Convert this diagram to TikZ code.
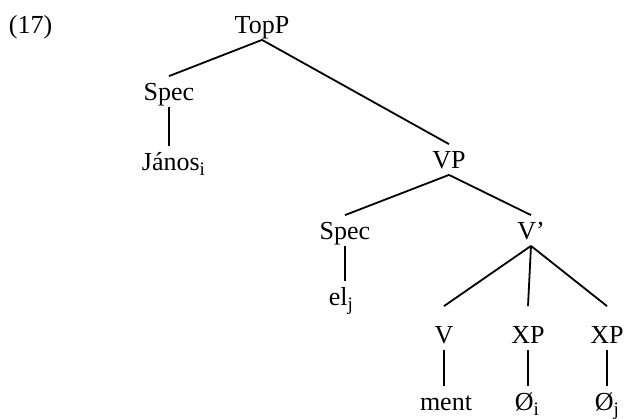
\documentclass[tikz,border=0pt]{standalone}
\usepackage{fontspec}
\setmainfont{Liberation Serif}
\newcommand\idx[1]{\raisebox{-5pt}{\fontsize{19pt}{20pt}\selectfont #1}}
\tikzset{
  lbl/.style={inner xsep=1pt, inner ysep=5pt, text height=18pt, text depth=1pt, font=\fontsize{26pt}{30pt}\selectfont},
}
\begin{document}
\begin{tikzpicture}[x=1pt,y=-1pt,line width=1.8pt]
\useasboundingbox (0,0) rectangle (631,418);
\fill [white] (0,0) rectangle (631,418);

\node (ex) at (7,33) [lbl,anchor=base west] {(17)};
\node (TopP) at (262,33) [lbl,anchor=base] {TopP};
\node (Spec1) at (169,100) [lbl,anchor=base] {Spec};
\node (Janos) at (140,170) [lbl,anchor=base west] {János\idx{i}};
\node (VP) at (449,168) [lbl,anchor=base] {VP};
\node (Spec2) at (345,239) [lbl,anchor=base] {Spec};
\node (Vbar) at (531,239) [lbl,anchor=base] {V’};
\node (el) at (327,305) [lbl,anchor=base west] {el\idx{j}};
\node (V) at (444,343) [lbl,anchor=base] {V};
\node (XPa) at (528,343) [lbl,anchor=base] {XP};
\node (XPb) at (607,343) [lbl,anchor=base] {XP};
\node (ment) at (446,410) [lbl,anchor=base] {ment};
\node (nulla) at (513,410) [lbl,anchor=base west] {Ø\idx{i}};
\node (nullb) at (593,410) [lbl,anchor=base west] {Ø\idx{j}};

\draw (TopP.south) -- (Spec1.north);
\draw (TopP.south) -- (VP.north);
\draw (Spec1.south) -- (Spec1.south |- Janos.north);
\draw (VP.south) -- (Spec2.north);
\draw (VP.south) -- (Vbar.north);
\draw (Spec2.south) -- (Spec2.south |- el.north);
\draw (Vbar.south) -- ([yshift=13pt]V.north);
\draw (Vbar.south) -- ([yshift=13pt]XPa.north);
\draw (Vbar.south) -- ([yshift=13pt]XPb.north);
\draw (V.south) -- (V.south |- ment.north);
\draw (XPa.south) -- (XPa.south |- nulla.north);
\draw (XPb.south) -- (XPb.south |- nullb.north);
\end{tikzpicture}
\end{document}
